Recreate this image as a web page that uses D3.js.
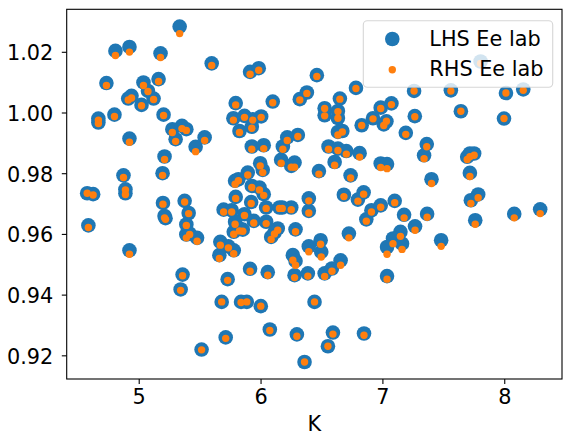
<!DOCTYPE html>
<html>
<head>
<meta charset="utf-8">
<script src="https://cdn.jsdelivr.net/npm/d3@7"></script>
<style>
html,body{margin:0;padding:0;background:#fff;}
svg{display:block;}
text{font-family:"DejaVu Sans",sans-serif;}
</style>
</head>
<body>
<svg id="chart" width="572" height="444"></svg>
<script>
const K = [5.336,4.809,4.924,5.179,5.599,4.735,5.039,5.163,5.076,4.914,
4.941,5.122,5.023,4.801,4.669,4.669,5.204,5.276,5.355,5.391,
5.303,5.541,5.467,4.924,5.212,4.875,5.196,4.577,4.626,4.891,
4.891,5.199,5.212,5.220,5.377,5.410,5.391,5.391,5.418,5.479,
4.587,4.924,5.360,5.344,5.516,5.714,5.681,5.730,5.914,5.985,
6.462,6.783,6.322,6.380,6.100,5.796,6.651,6.526,6.526,6.635,
6.635,6.986,7.011,6.923,6.830,5.777,5.868,5.936,6.005,5.827,
5.928,6.635,6.671,6.306,6.219,5.928,6.026,6.183,6.558,6.635,
6.704,6.813,6.608,6.986,6.169,6.252,6.279,5.997,6.018,5.895,
6.479,6.739,5.791,5.818,5.928,5.991,6.026,5.796,6.396,6.684,
6.846,6.799,5.923,6.396,6.910,6.986,6.868,5.697,5.763,5.868,
6.046,6.155,6.178,6.252,5.944,6.046,5.791,5.780,5.854,5.827,
6.141,6.114,6.087,6.287,5.670,5.736,5.780,5.662,6.725,6.396,
6.493,6.498,6.265,6.287,5.914,6.059,6.279,6.388,6.526,6.586,
6.657,5.840,5.887,6.002,6.443,6.076,6.298,6.594,6.849,6.553,
6.361,7.260,7.562,8.014,8.156,7.074,7.266,7.644,7.998,7.033,
7.192,7.364,7.342,7.718,7.753,7.696,7.038,7.403,7.718,7.786,
7.726,7.101,7.178,7.367,8.082,8.295,7.762,7.268,7.148,7.087,
7.161,7.038,7.482,7.038,7.806];

const lhsEe = [1.0283,1.0203,1.0216,1.0195,1.0162,1.0097,1.0099,1.0110,1.0071,1.0046,
1.0055,1.0046,1.0025,0.9993,0.9980,0.9967,0.9993,0.9945,0.9956,0.9945,
0.9912,0.9918,0.9887,0.9914,0.9855,0.9793,0.9800,0.9734,0.9731,0.9747,
0.9734,0.9702,0.9659,0.9652,0.9709,0.9669,0.9631,0.9598,0.9601,0.9587,
0.9628,0.9546,0.9466,0.9417,0.9219,0.9259,0.9376,0.9451,1.0134,1.0146,
1.0123,1.0081,1.0044,1.0066,1.0036,1.0031,1.0046,1.0014,0.9991,1.0005,
0.9982,1.0016,0.9961,0.9981,0.9958,0.9981,0.9989,0.9978,0.9987,0.9939,
0.9953,0.9936,0.9939,0.9926,0.9918,0.9888,0.9892,0.9888,0.9888,0.9881,
0.9873,0.9866,0.9837,0.9832,0.9844,0.9824,0.9835,0.9833,0.9811,0.9802,
0.9807,0.9793,0.9775,0.9780,0.9758,0.9753,0.9731,0.9722,0.9717,0.9729,
0.9737,0.9713,0.9705,0.9676,0.9678,0.9694,0.9648,0.9680,0.9678,0.9665,
0.9687,0.9687,0.9687,0.9687,0.9643,0.9640,0.9640,0.9607,0.9614,0.9618,
0.9618,0.9604,0.9590,0.9615,0.9574,0.9559,0.9546,0.9530,0.9601,0.9559,
0.9579,0.9541,0.9530,0.9511,0.9485,0.9474,0.9464,0.9470,0.9470,0.9486,
0.9513,0.9376,0.9376,0.9362,0.9376,0.9285,0.9269,0.9275,0.9272,0.9230,
0.9178,1.0071,1.0073,1.0064,1.0076,1.0030,0.9988,1.0004,0.9980,0.9971,
0.9933,0.9896,0.9859,0.9865,0.9865,0.9854,0.9830,0.9780,0.9801,0.9730,
0.9711,0.9709,0.9663,0.9666,0.9666,0.9681,0.9645,0.9625,0.9607,0.9585,
0.9568,0.9557,0.9579,0.9461,1.0168];

const rhsEe = [1.0260,1.0188,1.0199,1.0181,1.0155,1.0089,1.0089,1.0102,1.0069,1.0041,
1.0048,1.0043,1.0022,0.9987,0.9975,0.9964,0.9990,0.9934,0.9947,0.9941,
0.9905,0.9908,0.9871,0.9902,0.9845,0.9786,0.9793,0.9734,0.9728,0.9745,
0.9730,0.9698,0.9653,0.9648,0.9705,0.9667,0.9628,0.9587,0.9598,0.9576,
0.9621,0.9533,0.9462,0.9414,0.9218,0.9256,0.9376,0.9447,1.0126,1.0139,
1.0119,1.0079,1.0041,1.0063,1.0032,1.0025,1.0044,1.0013,0.9989,1.0003,
0.9981,1.0013,0.9957,0.9979,0.9957,0.9975,0.9984,0.9975,0.9984,0.9934,
0.9948,0.9926,0.9936,0.9921,0.9908,0.9879,0.9881,0.9879,0.9879,0.9875,
0.9863,0.9853,0.9826,0.9819,0.9833,0.9820,0.9820,0.9824,0.9802,0.9794,
0.9797,0.9784,0.9764,0.9775,0.9753,0.9745,0.9727,0.9717,0.9709,0.9723,
0.9731,0.9708,0.9700,0.9669,0.9672,0.9688,0.9642,0.9672,0.9672,0.9661,
0.9684,0.9684,0.9684,0.9680,0.9636,0.9634,0.9632,0.9599,0.9609,0.9610,
0.9612,0.9600,0.9582,0.9607,0.9563,0.9554,0.9535,0.9519,0.9587,0.9541,
0.9566,0.9524,0.9513,0.9497,0.9477,0.9464,0.9456,0.9461,0.9460,0.9477,
0.9497,0.9374,0.9376,0.9362,0.9376,0.9282,0.9263,0.9270,0.9266,0.9230,
0.9178,1.0071,1.0071,1.0064,1.0073,1.0026,0.9986,1.0004,0.9980,0.9971,
0.9928,0.9887,0.9848,0.9854,0.9859,0.9845,0.9815,0.9766,0.9789,0.9719,
0.9700,0.9703,0.9653,0.9655,0.9653,0.9667,0.9632,0.9612,0.9592,0.9568,
0.9549,0.9533,0.9559,0.9451,1.0162];

const seriesNames = ["LHS Ee lab", "RHS Ee lab"];
const xTicks = [5, 6, 7, 8];
const yTicks = [0.92, 0.94, 0.96, 0.98, 1.00, 1.02];
const xLabel = "K";
const xDomain = [4.409, 8.474];
const yDomain = [0.9122, 1.0340];

const W = 572, H = 444;
const M = {left: 66.7, right: 562, top: 9.3, bottom: 379};
const FS = 20.8;
const BLUE = "#1f77b4", ORANGE = "#ff7f0e";
const R_BIG = 7.3, R_SMALL = 3.7;

const svg = d3.select("#chart");
svg.append("rect").attr("width", W).attr("height", H).attr("fill", "#fff");

const x = d3.scaleLinear().domain(xDomain).range([M.left, M.right]);
const y = d3.scaleLinear().domain(yDomain).range([M.bottom, M.top]);

const pts = K.map((k, i) => ({k, l: lhsEe[i], r: rhsEe[i]}));

const plot = svg.append("g");
plot.selectAll("circle.lhs").data(pts).join("circle")
  .attr("class", "lhs")
  .attr("cx", d => x(d.k)).attr("cy", d => y(d.l))
  .attr("r", R_BIG).attr("fill", BLUE);
plot.selectAll("circle.rhs").data(pts).join("circle")
  .attr("class", "rhs")
  .attr("cx", d => x(d.k)).attr("cy", d => y(d.r))
  .attr("r", R_SMALL).attr("fill", ORANGE);

// spines
svg.append("rect")
  .attr("x", M.left).attr("y", M.top)
  .attr("width", M.right - M.left).attr("height", M.bottom - M.top)
  .attr("fill", "none").attr("stroke", "#000").attr("stroke-width", 1.1);

// axes
const xAxis = svg.append("g").attr("transform", `translate(0,${M.bottom})`)
  .call(d3.axisBottom(x).tickValues(xTicks).tickSize(4.9).tickPadding(10).tickFormat(d3.format("d")));
xAxis.select(".domain").remove();
xAxis.selectAll("line").attr("stroke", "#000").attr("stroke-width", 1.1);
xAxis.selectAll("text").attr("font-size", FS).attr("fill", "#000")
  .attr("y", 25.3).attr("dy", null).style("font-family", "DejaVu Sans");

const yAxis = svg.append("g").attr("transform", `translate(${M.left},0)`)
  .call(d3.axisLeft(y).tickValues(yTicks).tickSize(4.9).tickPadding(8.5).tickFormat(d3.format(".2f")));
yAxis.select(".domain").remove();
yAxis.selectAll("line").attr("stroke", "#000").attr("stroke-width", 1.1);
yAxis.selectAll("text").attr("font-size", FS).attr("fill", "#000")
  .attr("dy", "0.38em").style("font-family", "DejaVu Sans");

svg.append("text").attr("x", (M.left + M.right) / 2).attr("y", 431)
  .attr("text-anchor", "middle").attr("font-size", FS).attr("fill", "#000")
  .text(xLabel);

// legend
const lg = svg.append("g");
lg.append("rect").attr("x", 363.3).attr("y", 20.7).attr("width", 189.4).attr("height", 66.6)
  .attr("rx", 4).attr("ry", 4)
  .attr("fill", "#fff").attr("fill-opacity", 0.8)
  .attr("stroke", "#cccccc").attr("stroke-opacity", 0.8).attr("stroke-width", 1.1);
const legendItems = [
  {name: seriesNames[0], color: BLUE, r: R_BIG, cy: 39, base: 45.5},
  {name: seriesNames[1], color: ORANGE, r: R_SMALL, cy: 69.7, base: 76}
];
legendItems.forEach(it => {
  lg.append("circle").attr("cx", 392.3).attr("cy", it.cy).attr("r", it.r).attr("fill", it.color);
  lg.append("text").attr("x", 429.3).attr("y", it.base).attr("font-size", FS).attr("fill", "#000").text(it.name);
});
</script>
</body>
</html>
